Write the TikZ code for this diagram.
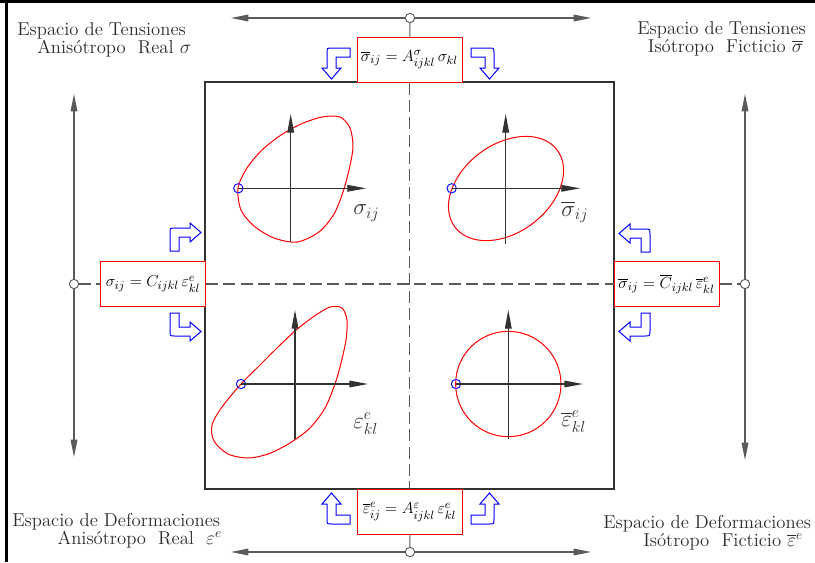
\documentclass[tikz,border=0pt]{standalone}
\usepackage{amsmath,amssymb}
\usepackage{xcolor}
\usepackage{tikz}
\usetikzlibrary{arrows.meta, positioning}

\definecolor{linegray}{RGB}{90,90,90}
\definecolor{axisgray}{RGB}{50,50,50}
\definecolor{textgray}{RGB}{45,45,45}

\begin{document}
\begin{tikzpicture}[x=0.75pt, y=-0.75pt,
    eqbox/.style={rectangle, draw=red, line width=0.75pt, fill=white, minimum width=78.75pt, minimum height=33.75pt, inner sep=0pt, font=\fontsize{12.5}{15}\selectfont},
    hub/.style={circle, draw=linegray, fill=white, line width=0.7pt, minimum size=7pt, inner sep=0pt},
    spacelabel/.style={align=left, anchor=north west, inner sep=0pt, text=textgray, font=\fontsize{14}{13.5}\selectfont},
    qlabel/.style={anchor=west, inner sep=0pt, text=axisgray, font=\fontsize{18}{20}\selectfont},
    qaxis/.style={draw=axisgray, line width=0.8pt, -{Triangle[length=14pt, width=5pt]}},
    linkarrow/.style={draw=linegray, line width=0.8pt, {Triangle[length=13pt, width=5pt]}-{Triangle[length=13pt, width=5pt]}},
    midline/.style={draw=linegray, line width=0.8pt, dash pattern=on 9pt off 4pt},
    stub/.style={draw=linegray, line width=0.8pt},
    yieldcurve/.style={draw=red, line width=0.75pt},
    origpt/.style={circle, draw=blue, line width=0.7pt, minimum size=7pt, inner sep=0pt},
    flowarrow/.style={draw=blue, fill=white, line width=0.75pt},
    bendh/.pic={\path[flowarrow] (0,0) -- (9,0) -- (9,-14) -- (20,-14) -- (20,-9) -- (31,-18.5) -- (20,-28) -- (20,-23) -- (5,-23) .. controls (0,-23) .. (0,-18) -- cycle;},
    bendv/.pic={\path[flowarrow] (0,0) -- (0,9) -- (-14,9) -- (-14,20) -- (-9,20) -- (-18.5,31) -- (-28,20) -- (-23,20) -- (-23,5) .. controls (-23,0) .. (-18,0) -- cycle;}]

    \useasboundingbox (0,0) rectangle (815,562);

    % frame edges
    \draw[line width=2.25pt] (0,1.5) -- (815,1.5);
    \draw[line width=2.25pt] (6.5,0) -- (6.5,562);

    % spaces
    \node (tlspace) [spacelabel] at (17,22) {Espacio de Tensiones\\\hspace*{15pt}Anisótropo\ \ Real\ $\sigma$};
    \node (trspace) [spacelabel] at (637,21) {Espacio de Tensiones\\\hspace*{8pt}Isótropo\ \ Ficticio\ $\overline{\sigma}$};
    \node (blspace) [spacelabel] at (12,513) {Espacio de Deformaciones\\\hspace*{34pt}Anisótropo\ \ Real\ \ $\varepsilon^{e}$};
    \node (brspace) [spacelabel] at (603,515) {Espacio de Deformaciones\\\hspace*{30pt}Isótropo\ \ Ficticio\ $\overline{\varepsilon}^{e}$};

    % outer double arrows
    \coordinate (topA) at (231,18);
    \coordinate (topB) at (591,18);
    \coordinate (botA) at (231,552);
    \coordinate (botB) at (591,552);
    \coordinate (leftA) at (74,94);
    \coordinate (leftB) at (74,457);
    \coordinate (rightA) at (745,94);
    \coordinate (rightB) at (745,460);
    \draw[linkarrow] (topA) -- (topB);
    \draw[linkarrow] (botA) -- (botB);
    \draw[linkarrow] (leftA) -- (leftB);
    \draw[linkarrow] (rightA) -- (rightB);

    \node (hubT) [hub] at (410,18) {};
    \node (hubB) [hub] at (410,552) {};
    \node (hubL) [hub] at (74,284) {};
    \node (hubR) [hub] at (745,284) {};

    % central square
    \draw[draw=axisgray, line width=0.8pt] (205,82) rectangle (614,489);

    \node (eqtop) [eqbox] at (409.5,59.5) {$\overline{\sigma}_{ij} = A^{\sigma}_{ijkl}\,\sigma_{kl}$};
    \node (eqbot) [eqbox] at (409.5,512) {$\overline{\varepsilon}^{e}_{ij} = A^{\varepsilon}_{ijkl}\,\varepsilon^{e}_{kl}$};
    \node (eqleft) [eqbox] at (153,284) {$\sigma_{ij} = C_{ijkl}\,\varepsilon^{e}_{kl}$};
    \node (eqright) [eqbox] at (666.5,284) {$\overline{\sigma}_{ij} = \overline{C}_{ijkl}\,\overline{\varepsilon}^{e}_{kl}$};

    \draw[midline] (eqtop) -- (eqbot);
    \draw[midline] (eqleft) -- (eqright);
    \draw[midline] (hubL) -- (eqleft);
    \draw[midline] (eqright) -- (hubR);
    \draw[stub] (hubT) -- (eqtop);
    \draw[stub] (eqbot) -- (hubB);

    % mapping arrows
    \pic at (170,251) {bendh};
    \pic[yscale=-1] at (170,313) {bendh};
    \pic[xscale=-1] at (650,252) {bendh};
    \pic[xscale=-1, yscale=-1] at (650,313) {bendh};
    \pic at (350,48) {bendv};
    \pic[xscale=-1] at (471,48) {bendv};
    \pic[yscale=-1] at (350,524) {bendv};
    \pic[xscale=-1, yscale=-1] at (471,524) {bendv};

    % top left: anisotropic stress
    \draw[yieldcurve] plot[smooth cycle] coordinates {(238,188) (247,168) (262,150) (281,135) (301,124) (322,117) (340,117) (350,128) (353,147) (349,170) (343,192) (334,214) (319,232) (297,242) (274,238) (254,226) (241,210)};
    \node (pTL) [origpt] at (238.3,188.3) {};
    \coordinate (xTL) at (366,188.3);
    \coordinate (bTL) at (290.7,241.7);
    \coordinate (yTL) at (290.7,114);
    \draw[qaxis] (pTL.center) -- (xTL);
    \draw[qaxis] (bTL) -- (yTL);
    \node (sTL) [qlabel] at (353,213) {$\sigma_{ij}$};

    % top right: isotropic stress
    \draw[yieldcurve, rotate around={37:(506,188.5)}] (506,188.5) ellipse [x radius=48pt, y radius=33pt];
    \node (pTR) [origpt] at (451.7,188.3) {};
    \coordinate (xTR) at (580,188.3);
    \coordinate (bTR) at (505.7,244.3);
    \coordinate (yTR) at (505.7,114);
    \draw[qaxis] (pTR.center) -- (xTR);
    \draw[qaxis] (bTR) -- (yTR);
    \node (sTR) [qlabel] at (561,212) {$\overline{\sigma}_{ij}$};

    % bottom left: anisotropic strain
    \draw[yieldcurve] plot[smooth cycle] coordinates {(241,384) (259,366) (277,348) (295,331) (313,317) (330,307) (342,308) (347,320) (346,340) (341,363) (335,384) (325,408) (310,428) (290,443) (268,454) (248,458) (228,454) (214,441) (212,425) (222,407)};
    \node (pBL) [origpt] at (241,384) {};
    \coordinate (xBL) at (368,384);
    \coordinate (bBL) at (295,439);
    \coordinate (yBL) at (295,310);
    \draw[qaxis] (pBL.center) -- (xBL);
    \draw[qaxis] (bBL) -- (yBL);
    \node (sBL) [qlabel] at (353,424) {$\varepsilon^{e}_{kl}$};

    % bottom right: isotropic strain
    \draw[yieldcurve] (508.3,384) circle [radius=39.5pt];
    \node (pBR) [origpt] at (456,384) {};
    \coordinate (xBR) at (583,384);
    \coordinate (bBR) at (508.3,439);
    \coordinate (yBR) at (508.3,310);
    \draw[qaxis] (pBR.center) -- (xBR);
    \draw[qaxis] (bBR) -- (yBR);
    \node (sBR) [qlabel] at (561,422) {$\overline{\varepsilon}^{e}_{kl}$};

\end{tikzpicture}
\end{document}
